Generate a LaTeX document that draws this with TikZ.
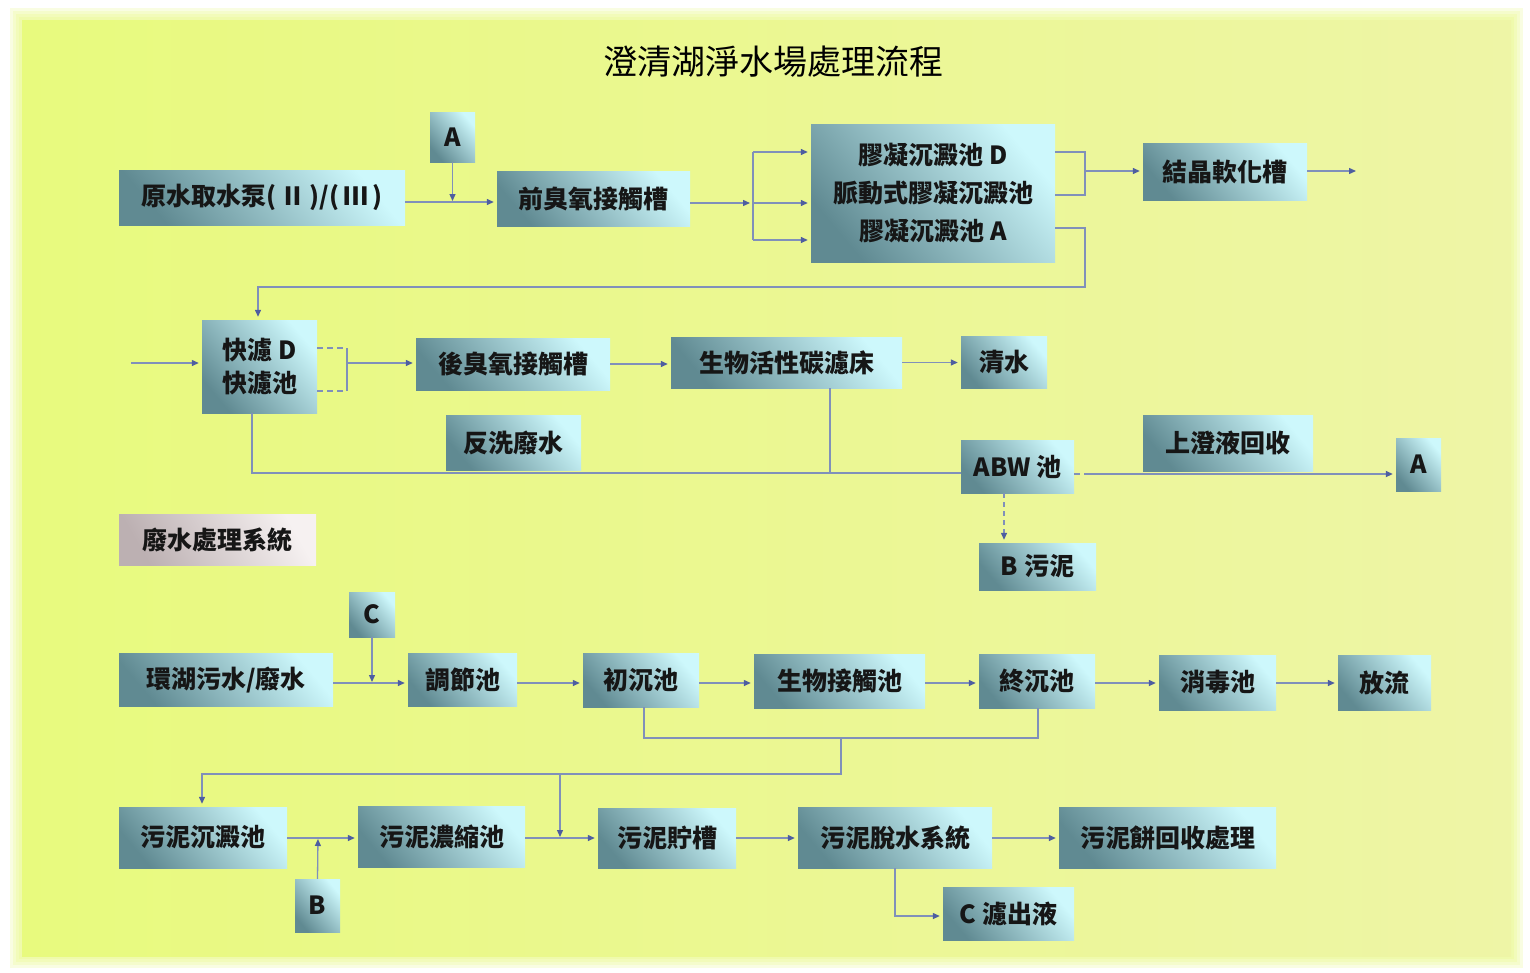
\documentclass[tikz,border=0pt]{standalone}
\usepackage{fontspec}
\newfontfamily\cjk{Noto Sans CJK TC}
\usetikzlibrary{arrows.meta,calc}
\definecolor{boxlo}{RGB}{96,138,146}
\definecolor{boxhi}{RGB}{205,248,252}
\definecolor{wwlo}{RGB}{188,176,178}
\definecolor{wwhi}{RGB}{246,241,241}
\definecolor{lnc}{RGB}{128,144,186}
\definecolor{tipc}{RGB}{78,94,160}
\definecolor{bgl}{RGB}{232,250,126}
\definecolor{bgr}{RGB}{238,245,166}
\definecolor{txt}{RGB}{22,22,22}
\tikzset{
  bx/.style={top color=boxhi, bottom color=boxlo, shading angle=-50, inner sep=0pt,
    text=txt, font=\cjk\bfseries\fontsize{25}{32}\selectfont, align=center},
  wwbx/.style={top color=wwhi, bottom color=wwlo, shading angle=-60, inner sep=0pt,
    text=txt, font=\cjk\bfseries\fontsize{25}{32}\selectfont},
  ln/.style={draw=lnc, line width=1.3pt},
  arr/.style={ln, -{Triangle[length=7pt,width=6pt,color=tipc]}, shorten >=3pt},
  arrz/.style={ln, -{Triangle[length=7pt,width=6pt,color=tipc]}, shorten >=1pt},
  dln/.style={ln, dash pattern=on 6pt off 4pt},
}
\begin{document}
\begin{tikzpicture}[x=1pt,y=-1pt]
\useasboundingbox (0,0) rectangle (1530,972);
\fill[white] (0,0) rectangle (1530,972);
\foreach \d in {12,9,6,3} {
  \fill[bgl, opacity=0.22] (22-\d,20-\d) rectangle (1511+\d,956+\d);
}
\shade[left color=bgl, right color=bgr] (22,20) rectangle (1511,956);

\node[font=\cjk\fontsize{34}{40}\selectfont, text=black] (title) at (773,62) {澄清湖淨水場處理流程};

% ---- upper system ----
\node[bx, minimum width=286pt, minimum height=55pt] (src) at (262,197.5) {原水取水泵(\hspace{4pt}Ⅱ\hspace{4pt})/(\hspace{4pt}Ⅲ\hspace{4pt})};
\node[bx, minimum width=45pt, minimum height=50pt] (Atop) at (452.5,137) {A};
\node[bx, minimum width=193pt, minimum height=55pt] (pre) at (593.5,198.5) {前臭氧接觸槽};
\node[bx, minimum width=244pt, minimum height=138pt, font=\cjk\bfseries\fontsize{25}{38}\selectfont] (cg) at (933,193) {膠凝沉澱池 D\\脈動式膠凝沉澱池\\膠凝沉澱池 A};
\node[bx, minimum width=164pt, minimum height=57pt] (cryst) at (1225,171.5) {結晶軟化槽};
\node[bx, minimum width=115pt, minimum height=93pt, font=\cjk\bfseries\fontsize{25}{33}\selectfont] (fast) at (259.5,366.5) {快濾 D\\快濾池};
\node[bx, minimum width=194pt, minimum height=52pt] (post) at (513,364) {後臭氧接觸槽};
\node[bx, minimum width=231pt, minimum height=51pt] (bac) at (786.5,362.5) {生物活性碳濾床};
\node[bx, minimum width=86pt, minimum height=52pt] (clean) at (1004,362) {清水};
\node[bx, minimum width=135pt, minimum height=55pt] (back) at (513.5,442.5) {反洗廢水};
\node[bx, minimum width=113pt, minimum height=53pt] (abw) at (1017.5,466.5) {ABW 池};
\node[bx, minimum width=170pt, minimum height=56pt] (super) at (1228,443) {上澄液回收};
\node[bx, minimum width=45pt, minimum height=53pt] (Aright) at (1418.5,464.5) {A};
\node[bx, minimum width=117pt, minimum height=47pt] (Bsl) at (1037.5,566.5) {B 污泥};

% ---- waste water system ----
\node[wwbx, minimum width=197pt, minimum height=51pt] (wwlabel) at (217.5,539.5) {廢水處理系統};
\node[bx, minimum width=46pt, minimum height=45pt] (Cbox) at (372,614.5) {C};
\node[bx, minimum width=214pt, minimum height=53pt] (lake) at (226,679.5) {環湖污水/廢水};
\node[bx, minimum width=109pt, minimum height=53pt] (adj) at (462.5,679.5) {調節池};
\node[bx, minimum width=116pt, minimum height=54pt] (prim) at (641,680) {初沉池};
\node[bx, minimum width=171pt, minimum height=54pt] (bio) at (839.5,681) {生物接觸池};
\node[bx, minimum width=116pt, minimum height=54pt] (fin) at (1037,681) {終沉池};
\node[bx, minimum width=117pt, minimum height=55pt] (dis) at (1217.5,682.5) {消毒池};
\node[bx, minimum width=93pt, minimum height=55pt] (outf) at (1384.5,682.5) {放流};
\node[bx, minimum width=168pt, minimum height=61pt] (sed) at (203,837.5) {污泥沉澱池};
\node[bx, minimum width=167pt, minimum height=61pt] (thick) at (441.5,836.5) {污泥濃縮池};
\node[bx, minimum width=138pt, minimum height=60pt] (store) at (667,838) {污泥貯槽};
\node[bx, minimum width=194pt, minimum height=61pt] (dew) at (895,837.5) {污泥脫水系統};
\node[bx, minimum width=217pt, minimum height=61pt] (cake) at (1167.5,837.5) {污泥餅回收處理};
\node[bx, minimum width=45pt, minimum height=53pt] (Bbox) at (317.5,905.5) {B};
\node[bx, minimum width=131pt, minimum height=53pt] (filt) at (1008.5,913.5) {C 濾出液};

% ---- junction coordinates ----
\coordinate (j1) at (452.5,202);
\coordinate (sp1) at (753,152);
\coordinate (sp2) at (753,203);
\coordinate (sp3) at (753,240);
\coordinate (rb1) at (1085,152);
\coordinate (rb2) at (1085,195);
\coordinate (rbm) at (1085,171);
\coordinate (cryout) at (1357,171);
\coordinate (lb) at (1085,228);
\coordinate (lb2) at (1085,287);
\coordinate (lb3) at (258,287);
\coordinate (fin0) at (131,363);
\coordinate (fb1) at (347,348);
\coordinate (fb2) at (347,391);
\coordinate (fbm) at (347,363);
\coordinate (bl) at (252,473);
\coordinate (bv) at (830,473);
\coordinate (aa) at (1085,474);
\coordinate (ab) at (1004,493);
\coordinate (cj) at (372,683);
\coordinate (p1) at (644,738);
\coordinate (p2) at (1038,738);
\coordinate (p3) at (841,738);
\coordinate (p4) at (841,774);
\coordinate (p5) at (202,774);
\coordinate (p6) at (560,774);
\coordinate (p7) at (560,838);
\coordinate (bq) at (318,838);
\coordinate (d1) at (895,916);

% ---- upper connectors ----
\draw[arr] (src.east |- j1) -- (pre.west |- j1);
\draw[arrz] (Atop.south) -- (j1);
\draw[arr] (pre.east |- sp2) -- (sp2);
\draw[ln] (sp1) -- (sp3);
\draw[arr] (sp1) -- (sp1 -| cg.west);
\draw[arr] (sp2) -- (sp2 -| cg.west);
\draw[arr] (sp3) -- (sp3 -| cg.west);
\draw[ln] (rb1 -| cg.east) -- (rb1) -- (rb2) -- (rb2 -| cg.east);
\draw[arr] (rbm) -- (rbm -| cryst.west);
\draw[arrz] (cryst.east |- cryout) -- (cryout);
\draw[arr] (lb -| cg.east) -- (lb) -- (lb2) -- (lb3) -- (lb3 |- fast.north);
\draw[arr] (fin0) -- (fin0 -| fast.west);
\draw[dln] (fb1 -| fast.east) -- (fb1);
\draw[dln] (fb2 -| fast.east) -- (fb2);
\draw[ln] (fb1) -- (fb2);
\draw[arr] (fbm) -- (fbm -| post.west);
\draw[arr] (post.east) -- (post.east -| bac.west);
\draw[arr] (bac.east) -- (bac.east -| clean.west);
\draw[ln] (bl |- fast.south) -- (bl) -- (bl -| abw.west);
\draw[ln] (bv |- bac.south) -- (bv);
\draw[arr, line width=1.8pt] (aa) -- (aa -| Aright.west);
\draw[dln] (abw.east |- aa) -- (aa);
\draw[arr, dash pattern=on 5pt off 4pt] (ab |- abw.south) -- (ab |- Bsl.north);

% ---- lower connectors ----
\draw[arr] (lake.east |- cj) -- (adj.west |- cj);
\draw[arrz] (Cbox.south) -- (cj);
\draw[arr] (adj.east |- cj) -- (prim.west |- cj);
\draw[arr] (prim.east |- cj) -- (bio.west |- cj);
\draw[arr] (bio.east |- cj) -- (fin.west |- cj);
\draw[arr] (fin.east |- cj) -- (dis.west |- cj);
\draw[arr] (dis.east |- cj) -- (outf.west |- cj);
\draw[ln] (p1 |- prim.south) -- (p1) -- (p2) -- (p2 |- fin.south);
\draw[arr] (p3) -- (p4) -- (p5) -- (p5 |- sed.north);
\draw[arrz] (p6) -- (p7);
\draw[arr] (sed.east |- p7) -- (thick.west |- p7);
\draw[arrz] (Bbox.north) -- (bq);
\draw[arr] (thick.east |- p7) -- (store.west |- p7);
\draw[arr] (store.east |- p7) -- (dew.west |- p7);
\draw[arr] (dew.east |- p7) -- (cake.west |- p7);
\draw[arr] (d1 |- dew.south) -- (d1) -- (d1 -| filt.west);
\end{tikzpicture}
\end{document}
